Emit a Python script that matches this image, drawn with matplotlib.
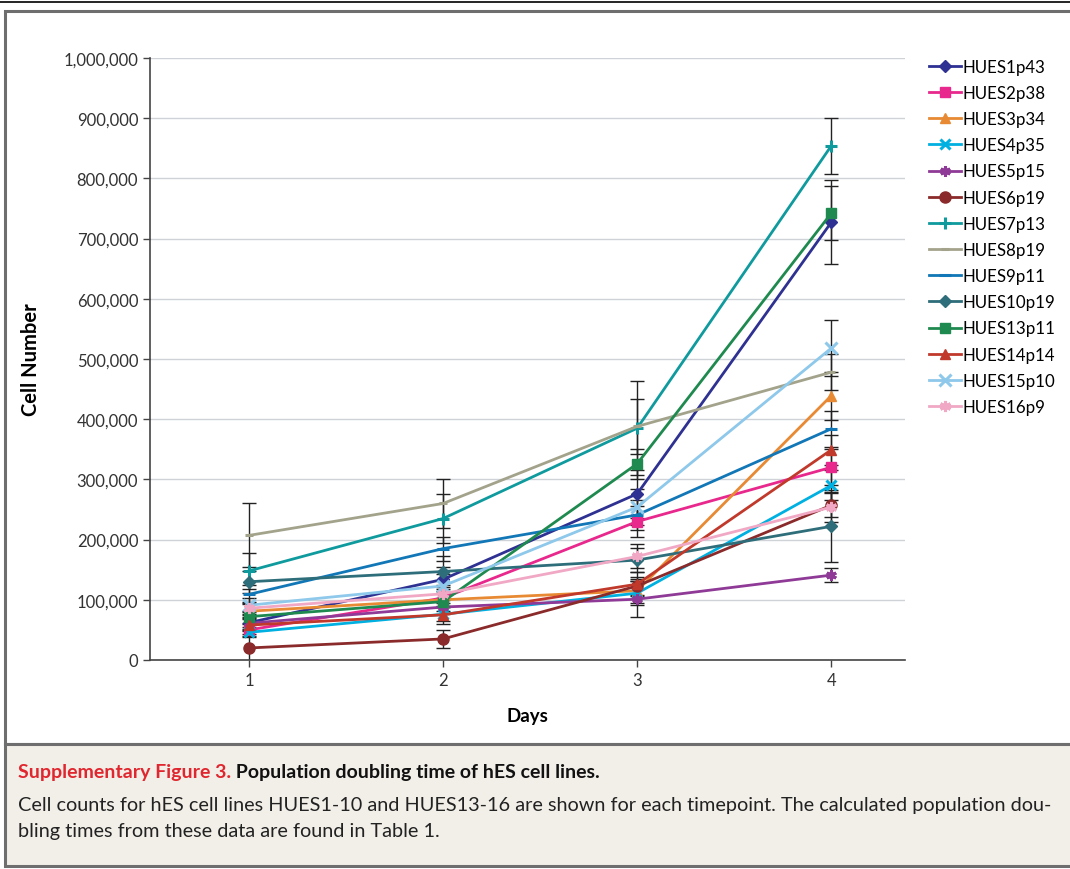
import matplotlib.pyplot as plt
from matplotlib.patches import Rectangle
from matplotlib.lines import Line2D
from matplotlib.ticker import FuncFormatter

plt.rcParams['font.family'] = ['Lato', 'DejaVu Sans']

days = [1, 2, 3, 4]
lines = ['HUES1p43', 'HUES2p38', 'HUES3p34', 'HUES4p35', 'HUES5p15', 'HUES6p19',
         'HUES7p13', 'HUES8p19', 'HUES9p11', 'HUES10p19', 'HUES13p11', 'HUES14p14',
         'HUES15p10', 'HUES16p9']

# cell counts per line, days 1-4
hues1 = [62000, 134000, 276000, 727000]
hues2 = [50000, 103000, 230000, 320000]
hues3 = [81000, 100000, 115000, 439000]
hues4 = [46000, 76000, 111000, 290000]
hues5 = [61000, 88000, 101000, 141000]
hues6 = [20000, 35000, 123000, 257000]
hues7 = [148000, 235000, 385000, 854000]
hues8 = [207000, 260000, 388000, 478000]
hues9 = [109000, 185000, 241000, 384000]
hues10 = [130000, 147000, 166000, 222000]
hues13 = [72000, 97000, 326000, 742000]
hues14 = [58000, 75000, 126000, 349000]
hues15 = [91000, 123000, 254000, 518000]
hues16 = [86000, 110000, 172000, 254000]

# standard deviations (error bars)
err1 = [12000, 20000, 40000, 70000]
err2 = [10000, 15000, 25000, 30000]
err3 = [12000, 12000, 20000, 40000]
err4 = [8000, 12000, 20000, 25000]
err5 = [10000, 12000, 30000, 12000]
err6 = [24000, 15000, 15000, 20000]
err7 = [30000, 40000, 78000, 46000]
err8 = [53000, 40000, 45000, 30000]
err9 = [15000, 20000, 25000, 30000]
err10 = [18000, 25000, 20000, 60000]
err13 = [10000, 15000, 25000, 45000]
err14 = [10000, 15000, 20000, 25000]
err15 = [12000, 20000, 30000, 46000]
err16 = [10000, 15000, 20000, 25000]

values = [hues1, hues2, hues3, hues4, hues5, hues6, hues7, hues8, hues9, hues10,
          hues13, hues14, hues15, hues16]
errors = [err1, err2, err3, err4, err5, err6, err7, err8, err9, err10,
          err13, err14, err15, err16]

colors = ['#2e3192', '#e8288c', '#e88a33', '#00b0e0', '#8e3a96', '#8b2a2a',
          '#0f9a9e', '#a3a38c', '#1277b6', '#2e6e7a', '#1f8a4f', '#c0392b',
          '#8ec8ea', '#f0a8c4']
asterisk = (6, 2, 0)
markers = ['D', 's', '^', 'x', asterisk, 'o', '+', '_', '_', 'D', 's', '^', 'x', asterisk]
msizes = [6, 7.5, 7.5, 7.5, 7.5, 8, 8, 6, 8, 6.5, 7.5, 7.5, 8, 8]

fig = plt.figure(figsize=(10.7, 8.7), dpi=100)

# frame, caption panel
fig.add_artist(Line2D([0, 1], [1 - 3 / 870, 1 - 3 / 870], color='black', lw=1.2))
fig.add_artist(Rectangle((5 / 1070, 125 / 870), 1.1, 733 / 870, facecolor='white',
                         edgecolor='#6e6e6e', lw=2.2, zorder=-10))
fig.add_artist(Rectangle((5 / 1070, 3 / 870), 1.1, 122 / 870, facecolor='#f2eee8',
                         edgecolor='#6e6e6e', lw=2.2, zorder=-10))

ax = fig.add_axes([150 / 1070, 209 / 870, 755 / 1070, 602 / 870])
ax.patch.set_alpha(0)

for name, v, e, c, m, ms in zip(lines, values, errors, colors, markers, msizes):
    ax.errorbar(days, v, yerr=e, fmt='none', ecolor='#222222', elinewidth=1.0,
                capsize=5, capthick=1.0, zorder=2)
for name, v, e, c, m, ms in zip(lines, values, errors, colors, markers, msizes):
    mew = 2.2 if m in ('x', '+', '_', asterisk) else 1
    ax.plot(days, v, color=c, lw=2.0, marker=m, markersize=ms, markeredgewidth=mew,
            markeredgecolor=c, markerfacecolor=c, label=name, zorder=3)

ax.set_xlim(0.49, 4.38)
ax.set_ylim(0, 1000000)
ax.set_xticks(days)
ax.set_yticks(range(0, 1000001, 100000))
ax.yaxis.set_major_formatter(FuncFormatter(lambda y, p: f'{int(y):,}'))
ax.yaxis.grid(True, color='#cfd3d8', lw=1.0)
ax.set_axisbelow(True)
for s in ['top', 'right']:
    ax.spines[s].set_visible(False)
for s in ['left', 'bottom']:
    ax.spines[s].set_color('#444444')
    ax.spines[s].set_linewidth(1.2)
ax.tick_params(axis='both', colors='#444444', labelcolor='#333333', labelsize=12,
               length=5, width=1.0)
ax.set_xlabel('Days', fontsize=13.5, fontweight='bold', labelpad=14)
ax.set_ylabel('Cell Number', fontsize=14.5, fontweight='bold', labelpad=16)

fig.legend(loc='upper left', bbox_to_anchor=(922 / 1070, 1 - 53 / 870), frameon=False,
           fontsize=12.2, handlelength=1.9, labelspacing=0.6, handletextpad=0.1,
           borderaxespad=0)

t1 = fig.text(18 / 1070, 1 - 773 / 870, 'Supplementary Figure 3.', color='#e0262e',
              fontsize=14, fontweight='bold', va='center')
ax.annotate(' Population doubling time of hES cell lines.', xy=(1, 0.5), xycoords=t1,
            va='center', ha='left', fontsize=14, fontweight='bold', color='#111111',
            annotation_clip=False)
fig.text(18 / 1070, 1 - 806 / 870,
         'Cell counts for hES cell lines HUES1-10 and HUES13-16 are shown for each timepoint. '
         'The calculated population dou-', fontsize=14.3, va='center', color='#222222')
fig.text(18 / 1070, 1 - 832 / 870, 'bling times from these data are found in Table 1.',
         fontsize=14.3, va='center', color='#222222')

fig.savefig('out.png', dpi=100)
